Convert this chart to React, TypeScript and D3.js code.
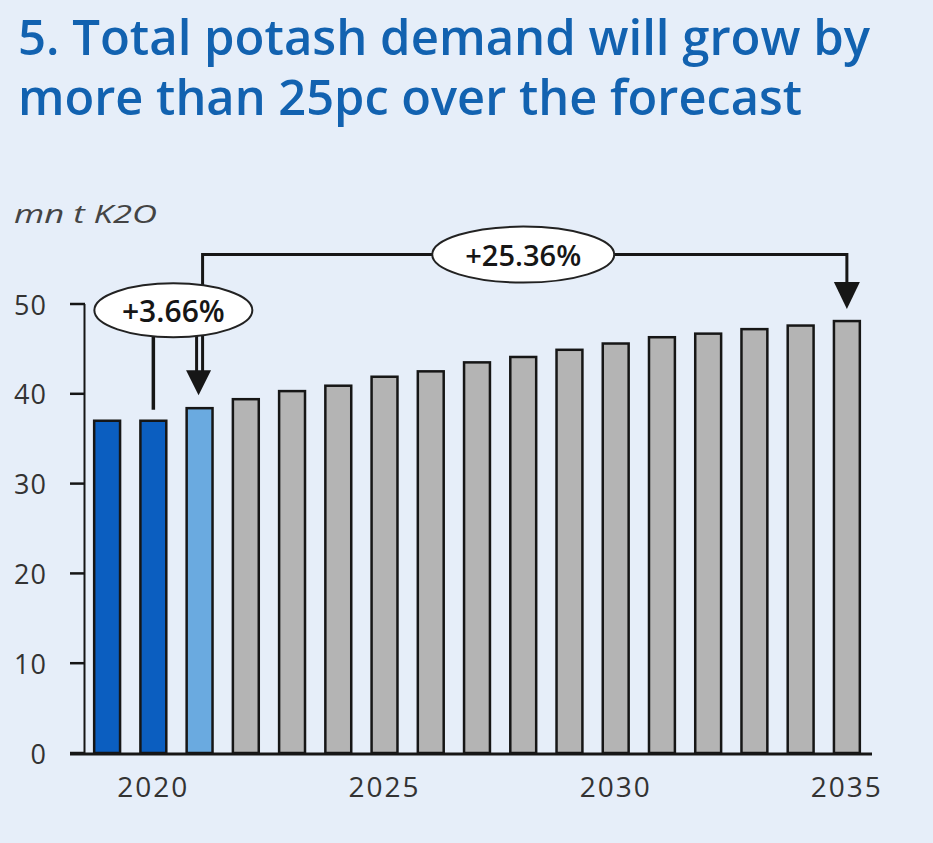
import React from 'react';
import * as d3 from 'd3';

const years = [2019, 2020, 2021, 2022, 2023, 2024, 2025, 2026, 2027, 2028, 2029, 2030, 2031, 2032, 2033, 2034, 2035];
const demand = [37.0, 37.0, 38.4, 39.4, 40.3, 40.9, 41.9, 42.5, 43.5, 44.1, 44.9, 45.6, 46.3, 46.7, 47.2, 47.6, 48.1];
const yTicks = [0, 10, 20, 30, 40, 50];
const xTickYears = [2020, 2025, 2030, 2035];
const titleLines = ['5. Total potash demand will grow by', 'more than 25pc over the forecast'];
const unitLabel = 'mn t K2O';
const shortLabel = '+3.66%';
const longLabel = '+25.36%';

const W = 933;
const H = 843;
const BG = '#e6eef9';
const TITLE = '#1262b0';
const DARK = '#0b5ec0';
const LIGHT = '#6aaae0';
const GREY = '#b4b4b4';
const INK = '#161616';
const FONT = '"Open Sans", "DejaVu Sans", sans-serif';

const barColor = (yr: number) => (yr <= 2020 ? DARK : yr === 2021 ? LIGHT : GREY);

export default function App() {
  const x = d3.scaleBand<number>()
    .domain(years)
    .range([84, 870])
    .paddingInner(0.44)
    .paddingOuter(0.22);

  const y = d3.scaleLinear().domain([0, 50]).range([753, 304]);

  const cx = (yr: number) => (x(yr) as number) + x.bandwidth() / 2;
  const val = (yr: number) => demand[years.indexOf(yr)];

  // annotation anchors from the data
  const x20 = cx(2020);
  const x21 = cx(2021);
  const x35 = cx(2035);
  const top21 = y(val(2021));
  const top35 = y(val(2035));
  const bracketY = y(55.5);
  const smallEll = { cx: (cx(2019) + x21) / 2 + 20, cy: y(49.3), rx: 79, ry: 27 };
  const bigEll = { cx: (x21 + x35) / 2, cy: bracketY, rx: 91, ry: 28 };

  const arrowHead = (tipX: number, tipY: number, w = 26, h = 26) =>
    `M${tipX - w / 2},${tipY - h} L${tipX + w / 2},${tipY - h} L${tipX},${tipY} Z`;

  return (
    <svg width={W} height={H} style={{ position: 'absolute', left: 0, top: 0, display: 'block' }}>
      <rect x={0} y={0} width={W} height={H} fill={BG} />

      {/* Title */}
      {titleLines.map((t, i) => (
        <text
          key={t}
          x={18}
          y={55 + i * 60}
          fill={TITLE}
          fontFamily={FONT}
          fontWeight={600}
          fontSize={49}
          textLength={i === 0 ? 852 : 784}
          lengthAdjust="spacingAndGlyphs"
        >
          {t}
        </text>
      ))}

      {/* unit label */}
      <text x={14} y={223} fill="#444" fontFamily={FONT} fontStyle="italic" fontSize={26} textLength={143} lengthAdjust="spacingAndGlyphs">
        {unitLabel}
      </text>

      {/* bars */}
      {years.map((yr, i) => (
        <rect
          key={yr}
          x={x(yr)}
          y={y(demand[i])}
          width={x.bandwidth()}
          height={y(0) - y(demand[i])}
          fill={barColor(yr)}
          stroke={INK}
          strokeWidth={2.5}
        />
      ))}

      {/* y axis */}
      <line x1={84.5} x2={84.5} y1={y(50)} y2={y(0)} stroke={INK} strokeWidth={2} />
      {yTicks.map(t => (
        <g key={t}>
          <line x1={70} x2={85} y1={y(t)} y2={y(t)} stroke={INK} strokeWidth={2.5} />
          <text
            x={47}
            y={y(t)}
            textAnchor="end"
            dominantBaseline="central"
            fill="#333"
            fontFamily={FONT}
            fontSize={27}
            letterSpacing={1}
          >
            {t}
          </text>
        </g>
      ))}

      {/* x axis */}
      <line x1={70} x2={872} y1={y(0) + 1} y2={y(0) + 1} stroke={INK} strokeWidth={3} />
      {xTickYears.map(yr => (
        <text
          key={yr}
          x={cx(yr)}
          y={797}
          textAnchor="middle"
          fill="#333"
          fontFamily={FONT}
          fontSize={28}
          letterSpacing={2}
        >
          {yr}
        </text>
      ))}

      {/* long bracket 2021 -> 2035 */}
      <path
        d={`M${x21 + 3},${top21 - 36} L${x21 + 3},${bracketY} L${x35},${bracketY} L${x35},${top35 - 30}`}
        fill="none"
        stroke={INK}
        strokeWidth={3}
      />
      <path d={arrowHead(x35, top35 - 12, 26, 27)} fill={INK} />

      {/* short arrow 2020 -> 2021 */}
      <line x1={x20} x2={x20} y1={smallEll.cy} y2={y(val(2020)) - 11} stroke={INK} strokeWidth={3.5} />
      <line x1={x21 - 3} x2={x21 - 3} y1={smallEll.cy} y2={top21 - 36} stroke={INK} strokeWidth={3} />
      <path d={arrowHead(x21 - 1, top21 - 13, 25, 25)} fill={INK} />

      {/* labels */}
      <ellipse cx={bigEll.cx} cy={bigEll.cy} rx={bigEll.rx} ry={bigEll.ry} fill="#fff" stroke="#222" strokeWidth={2} />
      <text
        x={bigEll.cx}
        y={bigEll.cy}
        textAnchor="middle"
        dominantBaseline="central"
        fill={INK}
        fontFamily={FONT}
        fontWeight={600}
        fontSize={29}
      >
        {longLabel}
      </text>

      <ellipse cx={smallEll.cx} cy={smallEll.cy} rx={smallEll.rx} ry={smallEll.ry} fill="#fff" stroke="#222" strokeWidth={2} />
      <text
        x={smallEll.cx}
        y={smallEll.cy}
        textAnchor="middle"
        dominantBaseline="central"
        fill={INK}
        fontFamily={FONT}
        fontWeight={600}
        fontSize={30}
      >
        {shortLabel}
      </text>
    </svg>
  );
}
